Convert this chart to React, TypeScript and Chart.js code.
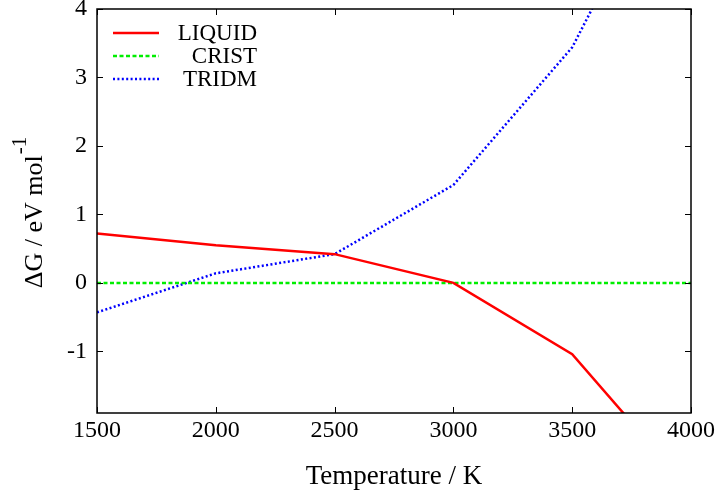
import React, { useEffect, useRef } from "react";
import { Chart, registerables } from "chart.js";

Chart.register(...registerables);

const temperatures = [1500, 2000, 2500, 3000, 3500, 4000];
const liquid = [0.72, 0.55, 0.42, 0.0, -1.04, -3.04];
const crist = [0, 0, 0, 0, 0, 0];
const tridm = [-0.43, 0.14, 0.42, 1.43, 3.44, 6.8];
const seriesNames = ["LIQUID", "CRIST", "TRIDM"];
const xTicks = [1500, 2000, 2500, 3000, 3500, 4000];
const yTicks = [-1, 0, 1, 2, 3, 4];
const xTitle = "Temperature / K";
const yTitleMain = "ΔG / eV mol";
const yTitleSup = "-1";

const FONT = "'Liberation Serif', 'Times New Roman', serif";

const gnuplotPlugin = {
  id: "gnuplotDecor",
  afterDraw(chart: any) {
    const { ctx, chartArea } = chart;
    const { left, right, top, bottom } = chartArea;
    const xs = chart.scales.x;
    const ys = chart.scales.y;
    ctx.save();
    // frame
    ctx.strokeStyle = "#000";
    ctx.lineWidth = 1.5;
    ctx.setLineDash([]);
    ctx.strokeRect(left, top, right - left, bottom - top);
    // inward ticks on all sides
    const tl = 6;
    ctx.lineWidth = 1;
    ctx.beginPath();
    xs.ticks.forEach((t: any) => {
      const px = Math.round(xs.getPixelForValue(t.value)) + 0.5;
      ctx.moveTo(px, bottom);
      ctx.lineTo(px, bottom - tl);
      ctx.moveTo(px, top);
      ctx.lineTo(px, top + tl);
    });
    ys.ticks.forEach((t: any) => {
      const py = Math.round(ys.getPixelForValue(t.value)) + 0.5;
      ctx.moveTo(left, py);
      ctx.lineTo(left + tl, py);
      ctx.moveTo(right, py);
      ctx.lineTo(right - tl, py);
    });
    ctx.stroke();

    // legend inside plot
    ctx.font = `23px ${FONT}`;
    ctx.fillStyle = "#000";
    ctx.textAlign = "right";
    ctx.textBaseline = "middle";
    chart.data.datasets.forEach((ds: any, i: number) => {
      const y = top + 24 + i * 23;
      ctx.strokeStyle = ds.borderColor;
      ctx.lineWidth = ds.borderWidth;
      ctx.setLineDash(ds.borderDash || []);
      ctx.beginPath();
      ctx.moveTo(left + 16, y);
      ctx.lineTo(left + 62, y);
      ctx.stroke();
      ctx.setLineDash([]);
      ctx.fillText(ds.label, left + 160, y + 1);
    });

    // x title
    ctx.font = `27px ${FONT}`;
    ctx.textAlign = "center";
    ctx.textBaseline = "alphabetic";
    ctx.fillText(xTitle, (left + right) / 2, 484);

    // y title with superscript
    ctx.translate(42, (top + bottom) / 2 + 2);
    ctx.rotate(-Math.PI / 2);
    ctx.font = `26px ${FONT}`;
    const wMain = ctx.measureText(yTitleMain).width;
    ctx.font = `21px ${FONT}`;
    const wSup = ctx.measureText(yTitleSup).width;
    const start = -(wMain + wSup) / 2;
    ctx.textAlign = "left";
    ctx.font = `26px ${FONT}`;
    ctx.fillText(yTitleMain, start, 0);
    ctx.font = `21px ${FONT}`;
    ctx.fillText(yTitleSup, start + wMain + 1, -16);
    ctx.restore();
  },
};

export default function App() {
  const ref = useRef<HTMLCanvasElement>(null);
  useEffect(() => {
    if (!ref.current) return;
    const mk = (arr: number[]) => temperatures.map((t, i) => ({ x: t, y: arr[i] }));
    const chart = new Chart(ref.current, {
      type: "line",
      data: {
        datasets: [
          {
            label: seriesNames[0],
            data: mk(liquid),
            borderColor: "#ff0000",
            borderWidth: 2.5,
            pointRadius: 0,
            tension: 0,
          },
          {
            label: seriesNames[1],
            data: mk(crist),
            borderColor: "#00ee00",
            borderWidth: 2.5,
            borderDash: [4, 2.5],
            pointRadius: 0,
            tension: 0,
          },
          {
            label: seriesNames[2],
            data: mk(tridm),
            borderColor: "#0000ff",
            borderWidth: 2.5,
            borderDash: [2, 2.4],
            pointRadius: 0,
            tension: 0,
          },
        ],
      },
      options: {
        animation: false,
        responsive: false,
        layout: { padding: { top: 9, right: 29, left: 0, bottom: 0 } },
        plugins: { legend: { display: false }, tooltip: { enabled: false } },
        scales: {
          x: {
            type: "linear",
            min: 1500,
            max: 4000,
            afterBuildTicks: (s: any) => {
              s.ticks = xTicks.map((v) => ({ value: v }));
            },
            afterFit: (s: any) => {
              s.height = 80;
              s.paddingLeft = 0;
              s.paddingRight = 0;
            },
            grid: { display: false, drawTicks: false },
            border: { display: false },
            ticks: {
              font: { family: FONT, size: 24 },
              color: "#000",
              padding: 3,
              maxRotation: 0,
              autoSkip: false,
              callback: (v: any) => String(v),
            },
          },
          y: {
            type: "linear",
            min: -1.9,
            max: 4,
            afterBuildTicks: (s: any) => {
              s.ticks = yTicks.map((v) => ({ value: v }));
            },
            afterFit: (s: any) => {
              s.width = 97;
              s.paddingTop = 0;
              s.paddingBottom = 0;
            },
            grid: { display: false, drawTicks: false },
            border: { display: false },
            ticks: {
              font: { family: FONT, size: 24 },
              color: "#000",
              padding: 10,
              autoSkip: false,
              callback: (v: any) => String(v),
            },
          },
        },
      },
      plugins: [gnuplotPlugin],
    });
    return () => chart.destroy();
  }, []);
  return (
    <div style={{ position: "absolute", left: 0, top: 0, width: 720, height: 493, background: "#fff" }}>
      <canvas ref={ref} width={720} height={493} />
    </div>
  );
}
